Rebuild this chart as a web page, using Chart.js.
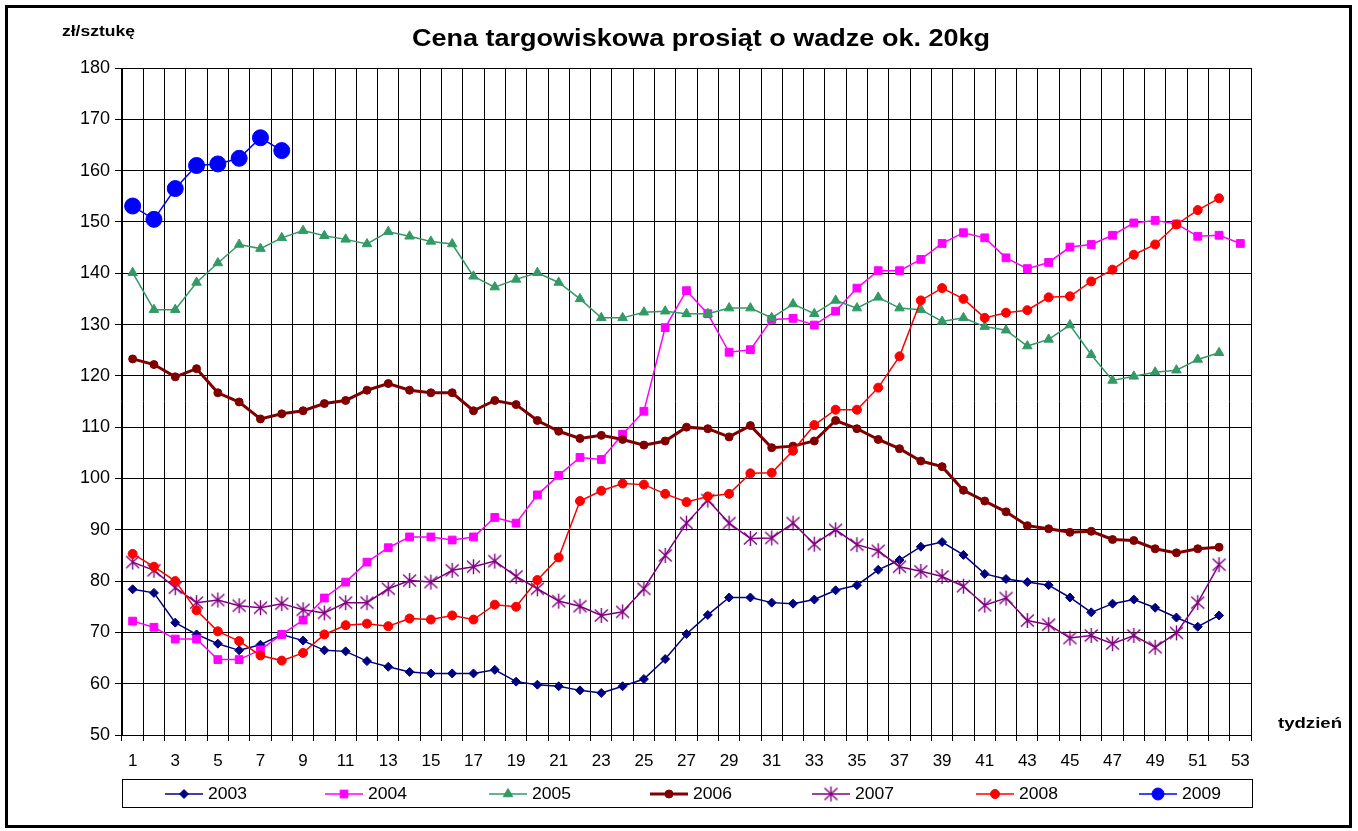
<!DOCTYPE html>
<html>
<head>
<meta charset="utf-8">
<title>Cena targowiskowa prosiąt</title>
<script src="https://cdn.jsdelivr.net/npm/chart.js@4/dist/chart.umd.min.js"></script>
<style>
  html, body { margin: 0; padding: 0; background: #fff; }
  canvas { display: block; }
</style>
</head>
<body>
<canvas id="pigChart" width="1358" height="831"></canvas>
<script>
const FONT = '"Liberation Sans", Arial, sans-serif';

const weeks = ['1', '2', '3', '4', '5', '6', '7', '8', '9', '10', '11', '12', '13', '14', '15', '16', '17', '18',
  '19', '20', '21', '22', '23', '24', '25', '26', '27', '28', '29', '30', '31', '32', '33', '34', '35', '36',
  '37', '38', '39', '40', '41', '42', '43', '44', '45', '46', '47', '48', '49', '50', '51', '52', '53'];

const years = ['2003', '2004', '2005', '2006', '2007', '2008', '2009'];

const price2003 = [78.4, 77.7, 71.9, 69.6, 67.8, 66.5, 67.6, 69.6, 68.4, 66.5, 66.3, 64.4, 63.3, 62.3,
  62.0, 62.0, 62.0, 62.7, 60.4, 59.8, 59.5, 58.7, 58.2, 59.5, 60.9, 64.8, 69.7,
  73.4, 76.8, 76.8, 75.8, 75.6, 76.4, 78.2, 79.2, 82.2, 84.1, 86.7, 87.6, 85.1, 81.4,
  80.4, 79.8, 79.2, 76.8, 73.9, 75.6, 76.4, 74.8, 72.9, 71.1, 73.3];

const price2004 = [72.2, 71.0, 68.7, 68.7, 64.7, 64.7, 66.6, 69.6, 72.4, 76.7, 79.8, 83.7, 86.5, 88.6,
  88.6, 88.0, 88.6, 92.4, 91.3, 96.8, 100.6, 104.1, 103.7, 108.6, 113.1, 129.4, 136.6,
  132.1, 124.6, 125.1, 131.0, 131.2, 129.9, 132.6, 137.1, 140.5, 140.5, 142.7, 145.8, 147.9, 146.9,
  143.0, 140.9, 142.1, 145.1, 145.6, 147.4, 149.8, 150.3, 149.6, 147.2, 147.4, 145.8];

const price2005 = [140.1, 132.9, 132.9, 138.2, 142.0, 145.6, 144.8, 146.9, 148.3, 147.3, 146.6, 145.7, 148.1, 147.2,
  146.2, 145.7, 139.4, 137.3, 138.8, 140.1, 138.2, 135.0, 131.3, 131.3, 132.4, 132.6, 132.1,
  132.1, 133.2, 133.2, 131.3, 134.0, 132.1, 134.7, 133.2, 135.3, 133.2, 132.9, 130.6, 131.3, 129.6,
  128.9, 125.8, 127.1, 129.9, 124.1, 119.1, 119.9, 120.7, 121.1, 123.2, 124.5];

const price2006 = [123.3, 122.2, 119.8, 121.4, 116.7, 114.9, 111.6, 112.6, 113.2, 114.6, 115.2, 117.2, 118.5, 117.2,
  116.7, 116.7, 113.2, 115.2, 114.4, 111.3, 109.2, 107.8, 108.4, 107.6, 106.5, 107.3, 110.0,
  109.7, 108.1, 110.3, 106.0, 106.3, 107.3, 111.3, 109.7, 107.6, 105.8, 103.4, 102.3, 97.7, 95.6,
  93.5, 90.8, 90.2, 89.5, 89.7, 88.1, 87.9, 86.3, 85.5, 86.3, 86.6];

const price2007 = [83.7, 82.1, 78.7, 75.8, 76.3, 75.2, 74.8, 75.6, 74.4, 73.8, 75.8, 75.8, 78.5, 80.1,
  79.8, 82.1, 82.8, 83.9, 80.9, 78.5, 76.1, 75.1, 73.3, 74.0, 78.5, 85.0, 91.3,
  95.8, 91.3, 88.3, 88.4, 91.3, 87.2, 90.0, 87.1, 85.9, 82.8, 81.9, 80.9, 79.0, 75.3,
  76.7, 72.3, 71.5, 68.9, 69.4, 67.8, 69.4, 67.1, 69.9, 75.8, 83.2];

const price2008 = [85.3, 82.8, 80.0, 74.3, 70.2, 68.3, 65.5, 64.5, 66.0, 69.6, 71.4, 71.7, 71.2, 72.7,
  72.5, 73.3, 72.5, 75.4, 75.0, 80.2, 84.6, 95.6, 97.6, 99.0, 98.8, 97.0, 95.4,
  96.5, 97.0, 101.0, 101.1, 105.4, 110.4, 113.4, 113.4, 117.7, 123.8, 134.7, 137.1, 135.0, 131.3,
  132.3, 132.8, 135.3, 135.5, 138.4, 140.7, 143.6, 145.6, 149.5, 152.3, 154.6];

const price2009 = [153.1, 150.5, 156.5, 161.0, 161.3, 162.4, 166.4, 163.9];

// Excel-style asterisk marker (x + vertical stroke)
function makeAsterisk(color) {
  const c = document.createElement('canvas');
  c.width = 17;
  c.height = 17;
  const g = c.getContext('2d');
  g.strokeStyle = color;
  g.lineWidth = 1.4;
  g.beginPath();
  g.moveTo(8.5, 1); g.lineTo(8.5, 16);
  g.moveTo(2, 2.5); g.lineTo(15, 14.5);
  g.moveTo(15, 2.5); g.lineTo(2, 14.5);
  g.stroke();
  return c;
}

const series = [
  { label: years[0], data: price2003, color: '#000080', style: 'rectRot', radius: 4.5, width: 1.5 },
  { label: years[1], data: price2004, color: '#FF00FF', style: 'rect', radius: 5.5, width: 1.5 },
  { label: years[2], data: price2005, color: '#339966', style: 'triangle', radius: 5.5, width: 1.5 },
  { label: years[3], data: price2006, color: '#800000', style: 'circle', radius: 4, width: 3 },
  { label: years[4], data: price2007, color: '#800080', style: makeAsterisk('#800080'), radius: 8, width: 1.5 },
  { label: years[5], data: price2008, color: '#FF0000', style: 'circle', radius: 4.5, width: 1.5 },
  { label: years[6], data: price2009, color: '#0000FF', style: 'circle', radius: 8, width: 1.5 },
];

const datasets = series.map((s, i) => ({
  label: s.label,
  data: s.data,
  borderColor: s.color,
  backgroundColor: s.color,
  borderWidth: s.width,
  pointStyle: s.style,
  pointRadius: s.radius,
  pointBorderWidth: 1,
  pointBackgroundColor: s.color,
  pointBorderColor: s.color,
  tension: 0,
  fill: false,
  order: series.length - i,
}));

// text stretched horizontally to a target width (the original Excel picture is widened)
function wideText(ctx, text, x, y, targetWidth) {
  const w = ctx.measureText(text).width;
  ctx.save();
  ctx.translate(x, y);
  ctx.scale(targetWidth / w, 1);
  ctx.textAlign = 'left';
  ctx.fillText(text, 0, 0);
  ctx.restore();
}

const framePlugin = {
  id: 'frame',
  afterDraw(chart) {
    const ctx = chart.ctx;
    ctx.save();

    // outer border
    ctx.strokeStyle = '#000';
    ctx.lineWidth = 3;
    ctx.strokeRect(6.5, 6.5, 1344, 820);

    // title
    ctx.fillStyle = '#000';
    ctx.textBaseline = 'middle';
    ctx.font = 'bold 24px ' + FONT;
    wideText(ctx, 'Cena targowiskowa prosiąt o wadze ok. 20kg', 412, 39, 578);

    // axis captions
    ctx.font = 'bold 15px ' + FONT;
    wideText(ctx, 'zł/sztukę', 62, 32, 73);
    wideText(ctx, 'tydzień', 1278, 724, 64);

    // legend box
    ctx.strokeStyle = '#000';
    ctx.lineWidth = 1;
    ctx.strokeRect(122.5, 779.5, 1130, 28);

    const legendX = [165, 325, 489, 650, 812, 976, 1139];
    const ly = 794;
    ctx.font = '17px ' + FONT;
    series.forEach((s, i) => {
      const x0 = legendX[i];
      ctx.strokeStyle = s.color;
      ctx.lineWidth = s.width;
      ctx.beginPath();
      ctx.moveTo(x0, ly);
      ctx.lineTo(x0 + 38, ly);
      ctx.stroke();
      ctx.fillStyle = s.color;
      ctx.lineWidth = 1;
      Chart.helpers.drawPoint(ctx, {
        pointStyle: s.style,
        radius: Math.min(s.radius, 6),
        rotation: 0,
        borderWidth: 1,
      }, x0 + 19, ly);
      ctx.fillStyle = '#000';
      wideText(ctx, s.label, x0 + 43, ly, 39);
    });

    ctx.restore();
  },
};

new Chart(document.getElementById('pigChart'), {
  type: 'line',
  data: { labels: weeks, datasets },
  options: {
    responsive: false,
    devicePixelRatio: 1,
    animation: false,
    layout: { padding: { left: 0, right: 107, top: 68, bottom: 0 } },
    plugins: {
      legend: { display: false },
      title: { display: false },
      tooltip: { enabled: false },
    },
    scales: {
      x: {
        offset: true,
        afterFit: (scale) => { scale.height = 96; },
        grid: { offset: true, color: '#000', lineWidth: 1, tickLength: 6, tickColor: '#000' },
        border: { color: '#000', width: 1 },
        ticks: {
          autoSkip: false,
          maxRotation: 0,
          minRotation: 0,
          padding: 10,
          color: '#000',
          font: { family: FONT, size: 17 },
          callback: function (value, index) {
            return index % 2 === 0 ? this.getLabelForValue(value) : '';
          },
        },
      },
      y: {
        min: 50,
        max: 180,
        afterFit: (scale) => { scale.width = 122; },
        grid: { color: '#000', lineWidth: 1, tickLength: 7, tickColor: '#000' },
        border: { color: '#000', width: 1 },
        ticks: {
          stepSize: 10,
          padding: 5,
          color: '#000',
          font: { family: FONT, size: 18 },
        },
      },
    },
  },
  plugins: [framePlugin],
});
</script>
</body>
</html>
